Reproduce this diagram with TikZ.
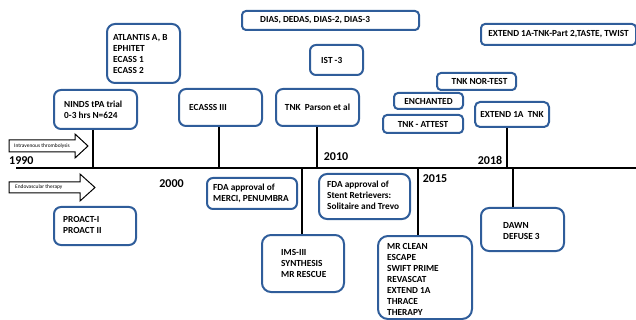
\documentclass[tikz,border=0pt]{standalone}
\usepackage{fontspec}
\setmainfont{Carlito}
\definecolor{bxc}{HTML}{2F5D9A}
\begin{document}
\begin{tikzpicture}[x=1pt,y=-1pt,
  box/.style={draw=bxc, line width=2pt, rounded corners=6pt, anchor=north west, inner sep=0pt},
  txt/.style={font=\bfseries\fontsize{9.3}{11}\selectfont, align=left, inner sep=0pt},
  ctxt/.style={font=\bfseries\fontsize{9.3}{11}\selectfont, align=center, inner sep=0pt},
  year/.style={font=\bfseries\fontsize{12}{14}\selectfont, inner sep=0pt},
  tick/.style={line width=2.2pt},
  tline/.style={line width=2.4pt},
  barrow/.style={draw=black, line width=1pt, fill=white},
  atxt/.style={font=\fontsize{5.4}{6}\selectfont, inner sep=0pt, anchor=west}
]
\useasboundingbox (0,0) rectangle (636,320);

% timeline
\coordinate (L) at (16,168);
\coordinate (R) at (636,168);
\draw[tline] (L) -- (R);

% boxes above
\node[box, minimum width=73, minimum height=59, rounded corners=8pt] (atl) at (106,23) {};
\node[txt, anchor=west] (atlt) at ([xshift=7pt]atl.west) {ATLANTIS A, B\\EPHITET\\ECASS 1\\ECASS 2};

\node[box, minimum width=83, minimum height=39, rounded corners=7pt] (ninds) at (53,89) {};
\node[txt, anchor=west] (nindst) at ([xshift=11pt]ninds.west) {NINDS tPA trial\\0-3 hrs N=624};

\node[box, minimum width=83, minimum height=37, rounded corners=7pt] (ecs) at (178,88) {};
\node[txt, anchor=west] (ecst) at ([xshift=11pt]ecs.west) {ECASSS III};

\node[box, minimum width=83, minimum height=37, rounded corners=7pt] (tnkp) at (275,88) {};
\node[ctxt] (tnkpt) at (tnkp) {TNK\ \ Parson et al};

\node[box, minimum width=177, minimum height=19, rounded corners=4pt] (dias) at (241,10) {};
\node[txt, anchor=west] (diast) at ([xshift=19pt]dias.west) {DIAS, DEDAS, DIAS-2, DIAS-3};

\node[box, minimum width=53, minimum height=30, rounded corners=6pt] (ist) at (309,44) {};
\node[txt, anchor=west] (istt) at ([xshift=12pt]ist.west) {IST -3};

\node[box, minimum width=155, minimum height=21, rounded corners=4pt] (ext2) at (480,23) {};
\node[ctxt] (ext2t) at (ext2) {EXTEND 1A-TNK-Part 2,TASTE, TWIST};

\node[box, minimum width=79, minimum height=17, rounded corners=4pt] (nor) at (436,72) {};
\node[ctxt] (nort) at ([xshift=3pt]nor) {TNK NOR-TEST};

\node[box, minimum width=69, minimum height=16, rounded corners=4pt] (ench) at (393,92) {};
\node[ctxt] (encht) at (ench) {ENCHANTED};

\node[box, minimum width=80, minimum height=18, rounded corners=4pt] (att) at (382,114) {};
\node[ctxt] (attt) at (att) {TNK - ATTEST};

\node[box, minimum width=74, minimum height=25, rounded corners=5pt] (ext1) at (474,101) {};
\node[ctxt] (ext1t) at (ext1) {EXTEND 1A\ \ TNK};

% boxes below
\node[box, minimum width=90, minimum height=31, rounded corners=6pt] (fdam) at (206,177) {};
\node[txt, anchor=west] (fdamt) at ([xshift=7pt]fdam.west) {FDA approval of\\MERCI, PENUMBRA};

\node[box, minimum width=82, minimum height=38, rounded corners=7pt] (pro) at (53,206) {};
\node[txt, anchor=west] (prot) at ([xshift=10pt,yshift=1pt]pro.west) {PROACT-I\\PROACT II};

\node[box, minimum width=82, minimum height=57, rounded corners=9pt] (ims) at (261,234) {};
\node[txt, anchor=west] (imst) at ([xshift=20pt]ims.west) {IMS-III\\SYNTHESIS\\MR RESCUE};

\node[box, minimum width=91, minimum height=45, rounded corners=8pt] (fdas) at (318,173) {};
\node[txt, anchor=west] (fdast) at ([xshift=9pt,yshift=1.5pt]fdas.west) {FDA approval of\\Stent Retrievers:\\Solitaire and Trevo};

\node[box, minimum width=94, minimum height=83, rounded corners=10pt] (mrc) at (377,235) {};
\node[txt, anchor=west] (mrct) at ([xshift=10pt,yshift=-1.5pt]mrc.west) {MR CLEAN\\ESCAPE\\SWIFT PRIME\\REVASCAT\\EXTEND 1A\\THRACE\\THERAPY};

\node[box, minimum width=83, minimum height=43, rounded corners=8pt] (dawn) at (480,207) {};
\node[txt, anchor=west] (dawnt) at ([xshift=23pt,yshift=-1.5pt]dawn.west) {DAWN\\DEFUSE 3};

% ticks
\coordinate (c1) at (93,168);
\coordinate (c2) at (219,168);
\coordinate (c3) at (317,168);
\coordinate (c4) at (507,168);
\coordinate (c5) at (302,168);
\coordinate (c6) at (418,168);
\coordinate (c7) at (513,168);
\draw[tick] (c1 |- ninds.south) -- (c1);
\draw[tick] (c2 |- ecs.south) -- (c2);
\draw[tick] (c3 |- tnkp.south) -- (c3);
\draw[tick] (c4 |- ext1.south) -- (c4);
\draw[tick] (c5) -- (c5 |- ims.north);
\draw[tick] (c6) -- (c6 |- mrc.north);
\draw[tick] (c7) -- (c7 |- dawn.north);

% years
\node[year, anchor=west] (y1990) at (9,161) {1990};
\node[year] (y2000) at (171.5,184) {2000};
\node[year] (y2010) at (336,157) {2010};
\node[year] (y2018) at (490,160) {2018};
\node[year] (y2015) at (435,179) {2015};

% block arrows
\draw[barrow] (9,140) -- (75,140) -- (75,134) -- (88,146) -- (75,158) -- (75,152) -- (9,152) -- cycle;
\node[atxt] (iv) at (14,146) {Intravenous thrombolysis};
\draw[barrow] (9,182) -- (80,182) -- (80,174) -- (95,187.5) -- (80,201) -- (80,193) -- (9,193) -- cycle;
\node[atxt] (ev) at (15,187.5) {Endovascular therapy};
\end{tikzpicture}
\end{document}
